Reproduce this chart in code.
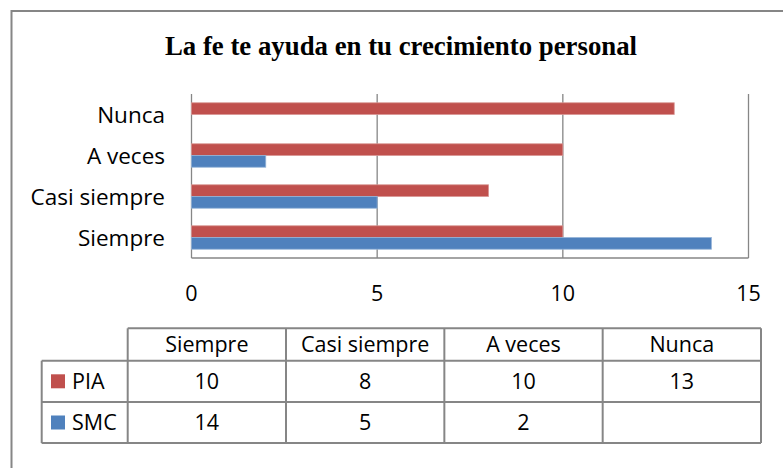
<!DOCTYPE html>
<html>
<head>
<meta charset="utf-8">
<script src="https://cdn.jsdelivr.net/npm/d3@7"></script>
<style>
  body { margin: 0; background: #fff; }
  svg { display: block; }
  .label { font-family: "Open Sans", "Liberation Sans", sans-serif; fill: #000; }
  .title { font-family: "Liberation Serif", "DejaVu Serif", serif; font-weight: bold; fill: #000; }
</style>
</head>
<body>
<div id="chart"></div>
<script>
const categories = ["Siempre", "Casi siempre", "A veces", "Nunca"];
const seriesNames = ["PIA", "SMC"];
const piaValues = [10, 8, 10, 13];
const smcValues = [14, 5, 2, null];
const xTicks = [0, 5, 10, 15];
const chartTitle = "La fe te ayuda en tu crecimiento personal";

const seriesColors = { PIA: "#C0504D", SMC: "#4F81BD" };
const seriesEdges = { PIA: "#D99694", SMC: "#95B3D7" };
const gridColor = "#868686";

const width = 783;
const height = 468;

const rows = categories.map((c, i) => ({
  category: c,
  PIA: piaValues[i],
  SMC: smcValues[i],
}));

const svg = d3
  .select("#chart")
  .append("svg")
  .attr("width", width)
  .attr("height", height);

// outer chart border (runs off the right and bottom edges)
svg
  .append("rect")
  .attr("x", 11.5)
  .attr("y", 11)
  .attr("width", 800)
  .attr("height", 500)
  .attr("fill", "none")
  .attr("stroke", gridColor)
  .attr("stroke-width", 2);

svg
  .append("text")
  .attr("class", "title")
  .attr("x", 401)
  .attr("y", 55)
  .attr("text-anchor", "middle")
  .style("font-size", "26.8px")
  .text(chartTitle);

// plot area
const plot = { left: 191.5, right: 748.5, top: 94, bottom: 258 };

const xScale = d3
  .scaleLinear()
  .domain([0, 15])
  .range([plot.left, plot.right]);

const yScale = d3
  .scaleBand()
  .domain(categories)
  .range([plot.bottom, plot.top]);

const ySub = d3
  .scaleBand()
  .domain(seriesNames)
  .range([0, yScale.bandwidth()])
  .paddingOuter(0.75);

// gridlines
svg
  .append("g")
  .selectAll("line")
  .data(xTicks.slice(1))
  .enter()
  .append("line")
  .attr("x1", (d) => xScale(d))
  .attr("x2", (d) => xScale(d))
  .attr("y1", plot.top)
  .attr("y2", plot.bottom)
  .attr("stroke", gridColor)
  .attr("stroke-width", 1.3);

// axis lines
svg
  .append("line")
  .attr("x1", xScale(0))
  .attr("x2", xScale(0))
  .attr("y1", plot.top)
  .attr("y2", plot.bottom)
  .attr("stroke", gridColor)
  .attr("stroke-width", 1.3);

svg
  .append("line")
  .attr("x1", xScale(0))
  .attr("x2", xScale(15))
  .attr("y1", plot.bottom)
  .attr("y2", plot.bottom)
  .attr("stroke", gridColor)
  .attr("stroke-width", 1.3);

// bars
const groups = svg
  .append("g")
  .selectAll("g")
  .data(rows)
  .enter()
  .append("g")
  .attr("transform", (d) => `translate(0,${yScale(d.category)})`);

groups
  .selectAll("rect")
  .data((d) =>
    seriesNames
      .filter((s) => d[s] !== null)
      .map((s) => ({ series: s, value: d[s] })),
  )
  .enter()
  .append("rect")
  .attr("x", xScale(0))
  .attr("y", (d) => ySub(d.series))
  .attr("width", (d) => xScale(d.value) - xScale(0))
  .attr("height", ySub.bandwidth())
  .attr("fill", (d) => seriesColors[d.series])
  .attr("stroke", (d) => seriesEdges[d.series])
  .attr("stroke-width", 0.8);

// category labels
svg
  .append("g")
  .selectAll("text")
  .data(categories)
  .enter()
  .append("text")
  .attr("class", "label")
  .attr("x", 165)
  .attr("y", (d) => yScale(d) + yScale.bandwidth() / 2)
  .attr("dy", "0.36em")
  .attr("text-anchor", "end")
  .style("font-size", "22.5px")
  .text((d) => d);

// x tick labels
svg
  .append("g")
  .selectAll("text")
  .data(xTicks)
  .enter()
  .append("text")
  .attr("class", "label")
  .attr("x", (d) => xScale(d))
  .attr("y", 300.5)
  .attr("text-anchor", "middle")
  .style("font-size", "21.5px")
  .text((d) => d);

// data table
const table = { left: 41.7, keyRight: 127.7, right: 761, top: 328.3, headBottom: 360.7, rowH: 41.2 };

const colScale = d3
  .scaleBand()
  .domain(categories)
  .range([table.keyRight, table.right]);

const rowScale = d3
  .scaleBand()
  .domain(seriesNames)
  .range([table.headBottom, table.headBottom + table.rowH * seriesNames.length]);

const tableBottom = rowScale.range()[1];
const tg = svg.append("g");
const lineStyle = (sel) =>
  sel.attr("stroke", gridColor).attr("stroke-width", 2).attr("fill", "none");

// header top line
tg.append("line")
  .attr("x1", table.keyRight).attr("x2", table.right)
  .attr("y1", table.top).attr("y2", table.top)
  .call(lineStyle);

// horizontal row lines
tg.selectAll(".hrow")
  .data(seriesNames)
  .enter()
  .append("line")
  .attr("x1", table.left).attr("x2", table.right)
  .attr("y1", (d) => rowScale(d)).attr("y2", (d) => rowScale(d))
  .call(lineStyle);

tg.append("line")
  .attr("x1", table.left).attr("x2", table.right)
  .attr("y1", tableBottom).attr("y2", tableBottom)
  .call(lineStyle);

// vertical lines
tg.append("line")
  .attr("x1", table.left).attr("x2", table.left)
  .attr("y1", table.headBottom).attr("y2", tableBottom)
  .call(lineStyle);

tg.selectAll(".vcol")
  .data(categories)
  .enter()
  .append("line")
  .attr("x1", (d) => colScale(d)).attr("x2", (d) => colScale(d))
  .attr("y1", table.top).attr("y2", tableBottom)
  .call(lineStyle);

tg.append("line")
  .attr("x1", table.right).attr("x2", table.right)
  .attr("y1", table.top).attr("y2", tableBottom)
  .call(lineStyle);

// header text
tg.selectAll(".head")
  .data(categories)
  .enter()
  .append("text")
  .attr("class", "label")
  .attr("x", (d) => colScale(d) + colScale.bandwidth() / 2)
  .attr("y", (table.top + table.headBottom) / 2)
  .attr("dy", "0.36em")
  .attr("text-anchor", "middle")
  .style("font-size", "21.5px")
  .text((d) => d);

// legend keys
tg.selectAll(".key")
  .data(seriesNames)
  .enter()
  .append("rect")
  .attr("x", 51)
  .attr("y", (d) => rowScale(d) + rowScale.bandwidth() / 2 - 7)
  .attr("width", 14)
  .attr("height", 14)
  .attr("fill", (d) => seriesColors[d]);

tg.selectAll(".keylabel")
  .data(seriesNames)
  .enter()
  .append("text")
  .attr("class", "label")
  .attr("x", 72)
  .attr("y", (d) => rowScale(d) + rowScale.bandwidth() / 2)
  .attr("dy", "0.36em")
  .style("font-size", "21.5px")
  .text((d) => d);

// cell values
const cells = [];
seriesNames.forEach((s) => {
  rows.forEach((r) => {
    if (r[s] !== null) cells.push({ series: s, category: r.category, value: r[s] });
  });
});

tg.selectAll(".cell")
  .data(cells)
  .enter()
  .append("text")
  .attr("class", "label")
  .attr("x", (d) => colScale(d.category) + colScale.bandwidth() / 2)
  .attr("y", (d) => rowScale(d.series) + rowScale.bandwidth() / 2)
  .attr("dy", "0.36em")
  .attr("text-anchor", "middle")
  .style("font-size", "21.5px")
  .text((d) => d.value);
</script>
</body>
</html>
